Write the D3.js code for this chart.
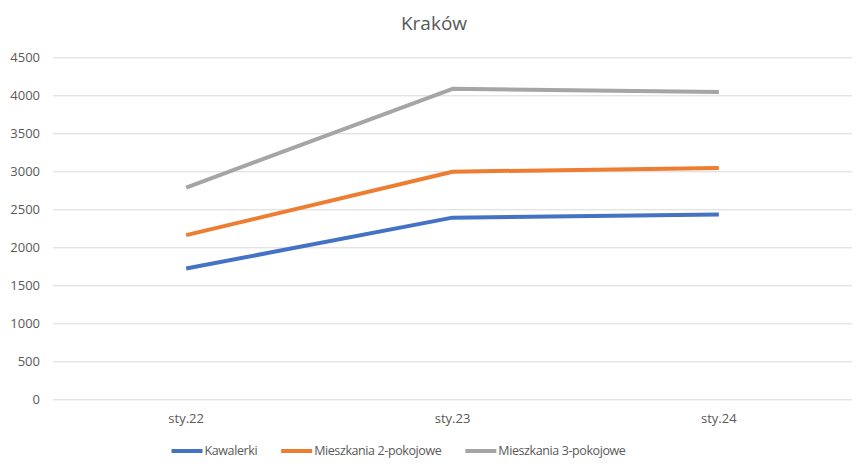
<!DOCTYPE html>
<html><head><meta charset="utf-8">
<script src="https://cdn.jsdelivr.net/npm/d3@7"></script>
<style>body{margin:0;background:#fff}svg{display:block}text{font-family:"Open Sans","Noto Sans",sans-serif;fill:#595959}</style>
</head><body><svg id="c" width="868" height="472"></svg>
<script>
const title = "Kraków";
const categories = ["sty.22", "sty.23", "sty.24"];
const seriesNames = ["Kawalerki", "Mieszkania 2-pokojowe", "Mieszkania 3-pokojowe"];
const kawalerki = [1720, 2390, 2430];
const mieszkania2 = [2160, 2995, 3045];
const mieszkania3 = [2785, 4085, 4045];
const yTicks = [0, 500, 1000, 1500, 2000, 2500, 3000, 3500, 4000, 4500];
const colors = ["#4472C4", "#ED7D31", "#A5A5A5"];

const series = [kawalerki, mieszkania2, mieszkania3];
const svg = d3.select("#c");
const x = d3.scaleBand().domain(categories).range([53, 852]);
const y = d3.scaleLinear().domain([0, 4500]).range([399.3, 57.3]);

svg.append("text").attr("x", 434).attr("y", 30).attr("text-anchor", "middle")
  .style("font-size", "19px").text(title);

const yAxis = svg.append("g").attr("transform", "translate(53,0)")
  .call(d3.axisLeft(y).tickValues(yTicks).tickSize(-799).tickFormat(d3.format("d")));
yAxis.select(".domain").remove();
yAxis.selectAll(".tick line").attr("stroke", "#d9d9d9").attr("stroke-width", 1);
yAxis.selectAll(".tick text").attr("x", -13).style("font-size", "13px").attr("fill", "#595959").style("font-family", "'Open Sans','Noto Sans',sans-serif");

const xAxis = svg.append("g").attr("transform", "translate(0,399.3)")
  .call(d3.axisBottom(x).tickSize(0));
xAxis.select(".domain").remove();
xAxis.selectAll(".tick text").attr("dy", 0).attr("y", 24).style("font-size", "13px").attr("fill", "#595959").style("font-family", "'Open Sans','Noto Sans',sans-serif");

const line = d3.line().x((d, i) => x(categories[i]) + x.bandwidth() / 2).y(d => y(d));
series.forEach((s, k) => {
  svg.append("path").datum(s).attr("d", line).attr("fill", "none")
    .attr("stroke", colors[k]).attr("stroke-width", 4).attr("stroke-linejoin", "round");
});

// legend
const lg = svg.append("g");
const swatchW = 31, gap = 2, itemGap = 24, ly = 451;
const items = seriesNames.map((n, k) => {
  const g = lg.append("g");
  g.append("line").attr("x1", 0).attr("x2", swatchW).attr("y1", ly).attr("y2", ly)
    .attr("stroke", colors[k]).attr("stroke-width", 4);
  const t = g.append("text").attr("x", swatchW + gap).attr("y", ly).attr("dy", "0.35em")
    .style("font-size", "12.5px").style("letter-spacing", "-0.4px").text(n);
  return {g, w: swatchW + gap + t.node().getComputedTextLength()};
});
const total = d3.sum(items, d => d.w) + itemGap * (items.length - 1);
let cx = 398.5 - total / 2;
items.forEach(it => { it.g.attr("transform", `translate(${cx},0)`); cx += it.w + itemGap; });
</script></body></html>
